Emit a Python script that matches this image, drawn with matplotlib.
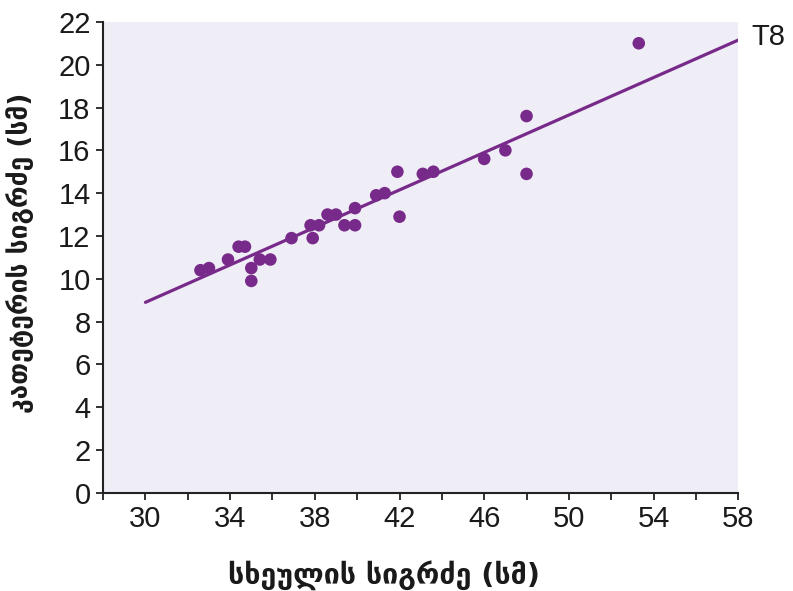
import numpy as np
import matplotlib.pyplot as plt
from matplotlib.ticker import MultipleLocator

# სხეულის სიგრძე (x) და კათეტერის სიგრძე (y), სმ
body_len = [32.6, 33.0, 33.9, 34.4, 34.7, 35.0, 35.0, 35.4, 35.9, 36.9,
            37.8, 38.2, 37.9, 38.6, 39.0, 39.4, 39.9, 39.9, 40.9, 41.3,
            41.9, 42.0, 43.1, 43.6, 46.0, 47.0, 48.0, 48.0, 53.3]
cath_len = [10.4, 10.5, 10.9, 11.5, 11.5, 10.5, 9.9, 10.9, 10.9, 11.9,
            12.5, 12.5, 11.9, 13.0, 13.0, 12.5, 12.5, 13.3, 13.9, 14.0,
            15.0, 12.9, 14.9, 15.0, 15.6, 16.0, 17.6, 14.9, 21.0]

# regression line ends
fit_x = [30, 58]
fit_y = [8.9, 21.15]

x_ticks = [30, 34, 38, 42, 46, 50, 54, 58]
y_ticks = list(range(0, 23, 2))

purple = '#782a8a'

fig = plt.figure(figsize=(7.93, 5.91), dpi=100)
ax = fig.add_axes([0.130, 0.166, 0.801, 0.797])
ax.set_facecolor('#efedf5')

ax.plot(fit_x, fit_y, color=purple, lw=2.3, solid_capstyle='round', zorder=2)
ax.scatter(body_len, cath_len, s=82, color=purple, edgecolors='none', zorder=3)

ax.set_xlim(28, 58)
ax.set_ylim(0, 22)
ax.set_xticks(x_ticks)
ax.xaxis.set_minor_locator(MultipleLocator(2))
ax.set_yticks(y_ticks)

for side in ('top', 'right'):
    ax.spines[side].set_visible(False)
for side in ('left', 'bottom'):
    ax.spines[side].set_linewidth(1.5)
    ax.spines[side].set_color('#222222')

ax.tick_params(axis='both', which='both', direction='out', length=5,
               width=1.3, color='#222222')
ax.tick_params(axis='both', which='major', labelsize=21, pad=4)
for lab in ax.get_xticklabels() + ax.get_yticklabels():
    lab.set_family('Liberation Sans')
    lab.set_color('#1a1a1a')

ax.set_xlabel('სხეულის სიგრძე (სმ)', fontsize=20.5, fontweight='bold',
              family='DejaVu Sans', color='#1a1a1a')
ax.set_ylabel('კათეტერის სიგრძე (სმ)', fontsize=19, fontweight='bold',
              family='DejaVu Sans', color='#1a1a1a')
ax.xaxis.set_label_coords(0.443, -0.143)
ax.yaxis.set_label_coords(-0.108, 0.51)

fig.text(0.947, 0.937, 'T8', fontsize=21, family='Liberation Sans',
         color='#1a1a1a', va='center', ha='left')

fig.savefig('out.png', dpi=100)
